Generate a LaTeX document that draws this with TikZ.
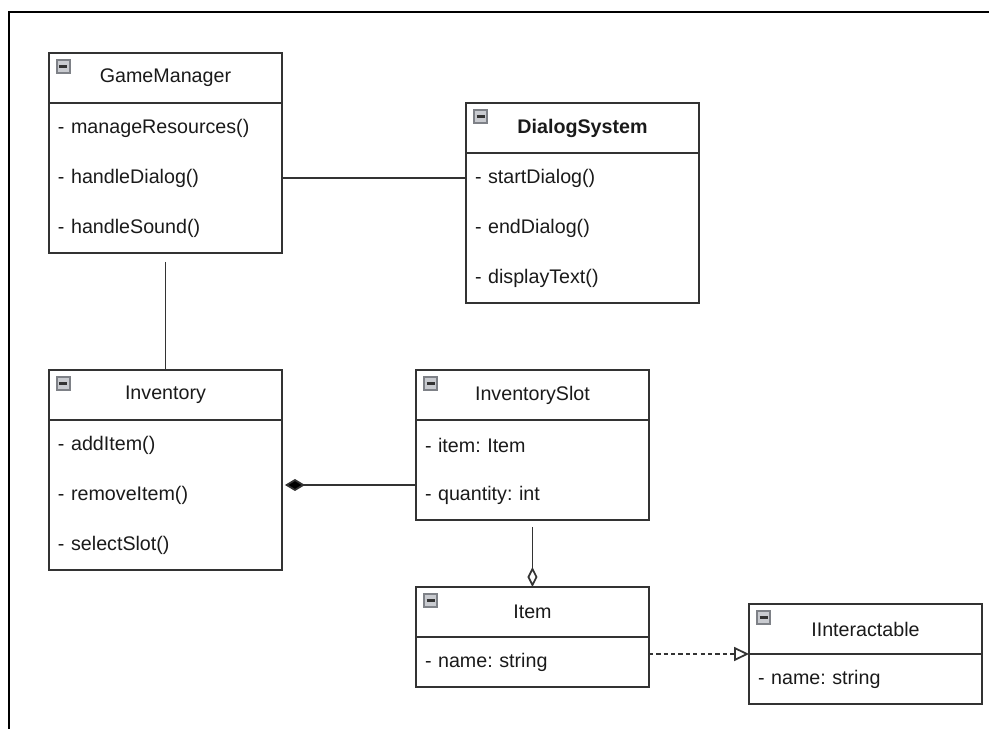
\documentclass[tikz,border=0pt]{standalone}
\usepackage{fontspec}
\setmainfont{Liberation Sans}
\usetikzlibrary{positioning,arrows.meta}
\definecolor{umlline}{HTML}{333333}
\definecolor{umltext}{HTML}{1A1A1A}
\definecolor{iconfill}{HTML}{C9CBD0}
\definecolor{iconedge}{HTML}{7E8187}

\tikzset{
  head/.style={draw=umlline, line width=0.9pt, minimum width=4.66cm, minimum height=1cm,
    inner sep=0pt, outer sep=0pt, anchor=north west, text=umltext},
  row/.style={text width=4.3cm, inner xsep=0.18cm, inner ysep=0pt, outer sep=0pt,
    minimum height=1cm, align=left, text=umltext, below=0pt of #1},
  box/.style={draw=umlline, line width=0.9pt},
  icon/.style={draw=iconedge, fill=iconfill, line width=0.6pt, minimum size=0.26cm, inner sep=0pt,
    path picture={\draw[umlline, line width=1.3pt] ([xshift=0.05cm]path picture bounding box.west)
      -- ([xshift=-0.05cm]path picture bounding box.east);}},
  link/.style={draw=umlline, line width=1pt},
  compose/.style={link, -{Diamond[fill=black, length=0.4cm, width=0.24cm]}},
  aggreg/.style={link, -{Diamond[open, length=0.4cm, width=0.2cm]}},
  realize/.style={link, dash pattern=on 2.4pt off 1.8pt, -{Triangle[open, length=0.3cm, width=0.28cm]}}
}

\begin{document}
\begin{tikzpicture}[x=0.02cm, y=-0.02cm, font=\fontsize{11.2}{13.4}\selectfont\frenchspacing]
\useasboundingbox (0,0) rectangle (989,729);
\draw[line width=1.2pt] (989,12) -- (9,12) -- (9,729);

\node[head](gm) at (49,53){GameManager};
\node[row=gm](gm1){- manageResources()};
\node[row=gm1](gm2){- handleDialog()};
\node[row=gm2](gm3){- handleSound()};
\draw[box] (gm.south west) rectangle (gm3.south east);

\node[head](ds) at (466,103){\textbf{DialogSystem}};
\node[row=ds](ds1){- startDialog()};
\node[row=ds1](ds2){- endDialog()};
\node[row=ds2](ds3){- displayText()};
\draw[box] (ds.south west) rectangle (ds3.south east);

\node[head](inv) at (49,370){Inventory};
\node[row=inv](inv1){- addItem()};
\node[row=inv1](inv2){- removeItem()};
\node[row=inv2](inv3){- selectSlot()};
\draw[box] (inv.south west) rectangle (inv3.south east);

\node[head](slot) at (416,370){InventorySlot};
\node[row=slot](slot1){- item: Item};
\node[row=slot1](slot2){- quantity: int};
\draw[box] (slot.south west) rectangle (slot2.south east);

\node[head](item) at (416,587){Item};
\node[row=item](item1){- name: string};
\draw[box] (item.south west) rectangle (item1.south east);

\node[head](ii) at (749,604){IInteractable};
\node[row=ii](ii1){- name: string};
\draw[box] (ii.south west) rectangle (ii1.south east);

% collapse icons
\foreach \c in {gm,ds,inv,slot,item,ii}
  \node[icon](\c icon) at ([xshift=0.29cm,yshift=-0.27cm]\c.north west){};

\draw[link] (gm2.east) -- (ds1.west);
\draw[link] ([yshift=-0.18cm]gm3.south) -- (inv.north);
\draw[compose] ([yshift=0.2cm]slot2.west) -- ([yshift=0.2cm,xshift=0.06cm]inv2.east);
\draw[aggreg] ([yshift=-0.14cm]slot2.south) -- (item.north);
\draw[realize] (item1.east |- ii1.north west) -- (ii1.north west);
\end{tikzpicture}
\end{document}
